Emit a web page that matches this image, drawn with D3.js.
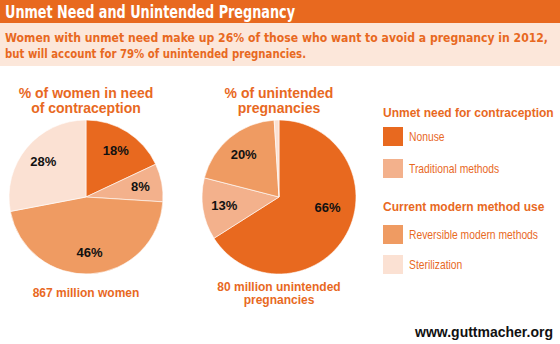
<!DOCTYPE html>
<html>
<head>
<meta charset="utf-8">
<script src="https://cdn.jsdelivr.net/npm/d3@7"></script>
<style>
  body { margin: 0; background: #fff; }
  svg { display: block; }
</style>
</head>
<body>
<div id="chart"></div>
<script>
// categories shared by both pies and the legend
const categories = ["Nonuse", "Traditional methods", "Reversible modern methods", "Sterilization"];
const groups = ["Unmet need for contraception", "Current modern method use"];

// % of women in need of contraception
const womenValues = [18, 8, 46, 28];
// % of unintended pregnancies
const pregnancyValues = [66, 13, 20, 1];

const WIDTH = 560, HEIGHT = 344;
const orange = "#e8691f";

const colour = d3.scaleOrdinal()
  .domain(categories)
  .range(["#e8691f", "#f3b18c", "#ef9b62", "#fbe1d3"]);

const svg = d3.select("#chart").append("svg")
  .attr("width", WIDTH)
  .attr("height", HEIGHT);

// header bar + subtitle band
svg.append("rect").attr("width", WIDTH).attr("height", 23).attr("fill", orange);
svg.append("rect").attr("y", 23).attr("width", WIDTH).attr("height", 43).attr("fill", "#fce7da");

svg.append("text")
  .attr("x", 5).attr("y", 18)
  .attr("fill", "#fff")
  .style("font", "bold 17px 'DejaVu Sans Condensed', 'DejaVu Sans', sans-serif")
  .attr("textLength", 290).attr("lengthAdjust", "spacingAndGlyphs")
  .text("Unmet Need and Unintended Pregnancy");

const subtitle = [
  "Women with unmet need make up 26% of those who want to avoid a pregnancy in 2012,",
  "but will account for 79% of unintended pregnancies."
];
const subLen = [543, 301];
svg.selectAll(".sub").data(subtitle).enter().append("text")
  .attr("class", "sub")
  .attr("x", 5).attr("y", (d, i) => 42 + i * 16)
  .attr("fill", orange)
  .style("font", "bold 12px 'DejaVu Sans Condensed', 'DejaVu Sans', sans-serif")
  .attr("textLength", (d, i) => subLen[i]).attr("lengthAdjust", "spacingAndGlyphs")
  .text(d => d);

// one pie
function drawPie(cfg) {
  const r = 77;
  const g = svg.append("g").attr("transform", `translate(${cfg.cx},${cfg.cy})`);

  const pie = d3.pie().sort(null).value(d => d.value);
  const arc = d3.arc().innerRadius(0).outerRadius(r);
  const labelArc = d3.arc().innerRadius(r * 0.72).outerRadius(r * 0.72);

  const data = categories.map((c, i) => ({ cat: c, value: cfg.values[i] }));

  g.selectAll("path").data(pie(data)).enter().append("path")
    .attr("d", arc)
    .attr("fill", d => colour(d.data.cat))
    .attr("stroke", "#fff")
    .attr("stroke-width", 0.6);

  g.selectAll(".lbl").data(pie(data).filter(d => d.data.value >= 5)).enter().append("text")
    .attr("class", "lbl")
    .attr("transform", d => {
      const [x, y] = labelArc.centroid(d);
      const n = (cfg.nudge && cfg.nudge[d.data.cat]) || [0, 0];
      return `translate(${x + n[0]},${y + n[1]})`;
    })
    .attr("dy", "0.36em")
    .attr("text-anchor", "middle")
    .style("font", "bold 13px 'Liberation Sans', Arial, sans-serif")
    .attr("fill", "#111")
    .text(d => d.data.value + "%");

  svg.selectAll(null).data(cfg.title).enter().append("text")
    .attr("x", cfg.cx).attr("y", (d, i) => 98 + i * 15)
    .attr("text-anchor", "middle")
    .attr("fill", orange)
    .style("font", "bold 14px 'Liberation Sans', Arial, sans-serif")
    .text(d => d);

  svg.selectAll(null).data(cfg.caption).enter().append("text")
    .attr("x", cfg.cx).attr("y", (d, i) => cfg.capY + i * 13)
    .attr("text-anchor", "middle")
    .attr("fill", orange)
    .style("font", "bold 12px 'Liberation Sans', Arial, sans-serif")
    .text(d => d);
}

drawPie({
  cx: 86, cy: 197, values: womenValues,
  title: ["% of women in need", "of contraception"],
  caption: ["867 million women"], capY: 297
});

drawPie({
  cx: 279, cy: 197, values: pregnancyValues,
  title: ["% of unintended", "pregnancies"],
  caption: ["80 million unintended", "pregnancies"], capY: 291,
  nudge: { "Nonuse": [0, -16] }
});

// legend
const legend = svg.append("g").attr("transform", "translate(383,0)");
const headerY = [117, 211];
const swatchY = [127, 159, 225, 255];

legend.selectAll(".lh").data(groups).enter().append("text")
  .attr("class", "lh")
  .attr("x", 0).attr("y", (d, i) => headerY[i])
  .attr("fill", orange)
  .style("font", "bold 12px 'Liberation Sans', Arial, sans-serif")
  .text(d => d);

const items = legend.selectAll(".li").data(categories).enter().append("g")
  .attr("class", "li")
  .attr("transform", (d, i) => `translate(0,${swatchY[i]})`);

items.append("rect")
  .attr("width", 20).attr("height", 19)
  .attr("fill", d => colour(d));

// condensed look: squeeze a normal sans horizontally
items.append("text")
  .attr("transform", "translate(26,14) scale(0.86,1)")
  .attr("fill", orange)
  .style("font", "12px 'Liberation Sans', Arial, sans-serif")
  .text(d => d);

// footer
svg.append("text")
  .attr("x", 553).attr("y", 337)
  .attr("text-anchor", "end")
  .attr("fill", "#111")
  .style("font", "bold 14px 'Liberation Sans', Arial, sans-serif")
  .text("www.guttmacher.org");
</script>
</body>
</html>
